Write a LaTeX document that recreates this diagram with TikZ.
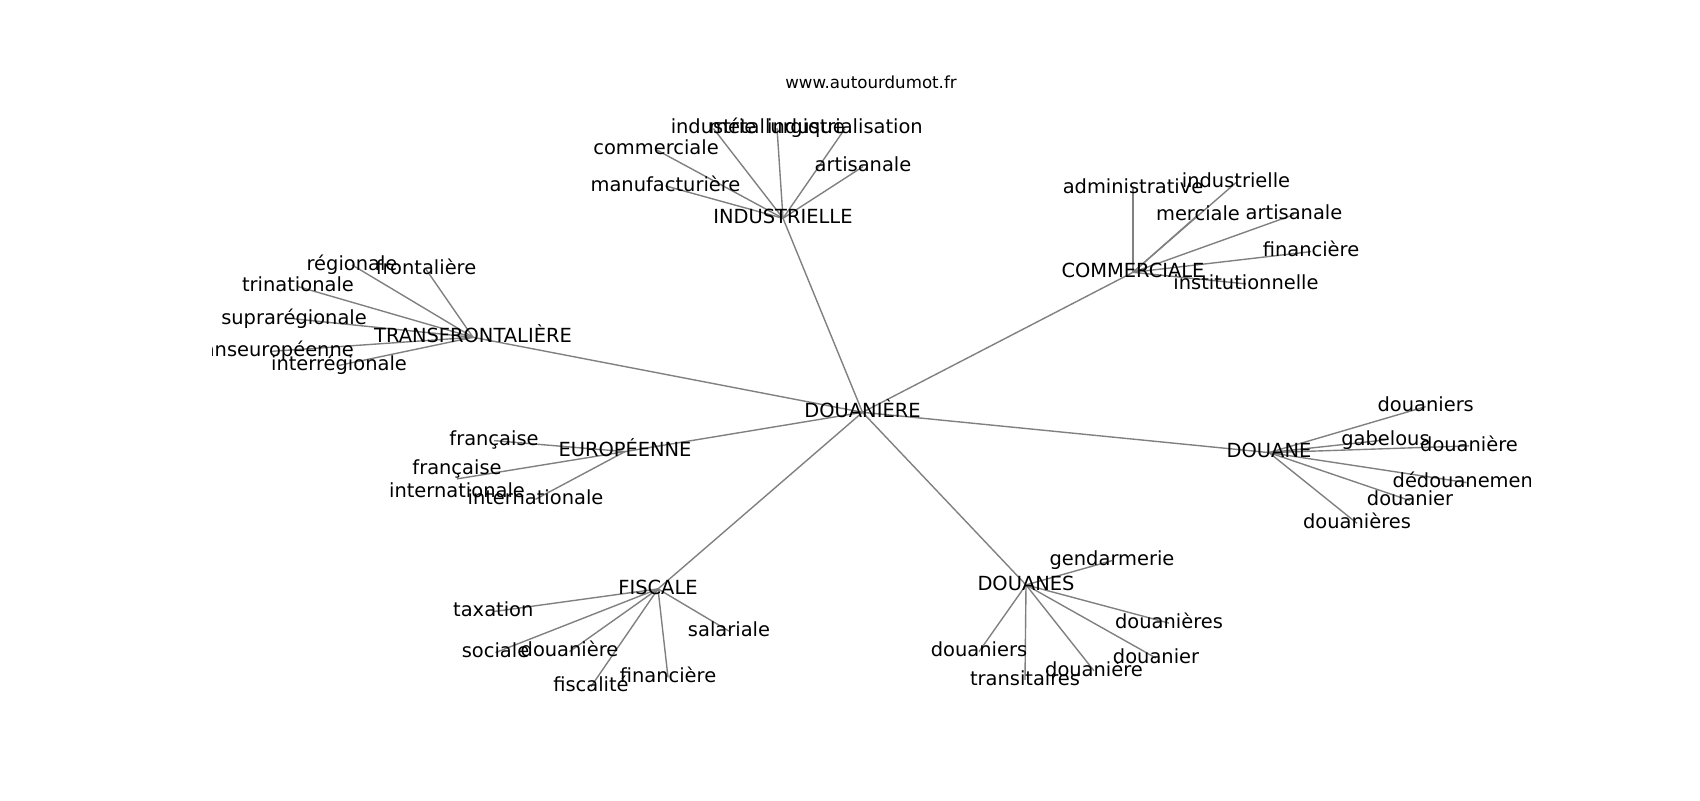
\documentclass[tikz,border=0pt]{standalone}
\usepackage{fontspec}
\setmainfont{DejaVu Sans}
\usetikzlibrary{backgrounds}
\newcommand\lblfont{\fontsize{14}{16.1}\selectfont}
\newcommand\ttlfont{\fontsize{12}{14}\selectfont}
\tikzset{
  lbl/.style={font=\lblfont, inner sep=0pt, text height=7.73pt, text depth=0pt},
  lbltwo/.style={font=\lblfont, inner sep=0pt, align=center},
  ttl/.style={font=\ttlfont, inner sep=0pt, anchor=base},
  edge/.style={draw=gray, line width=1pt}
}
\begin{document}
\begin{tikzpicture}[x=0.72pt, y=-0.72pt]
\useasboundingbox (0,0) rectangle (1700,800);
\node[ttl] (title) at (871,88) {www.autourdumot.fr};
\begin{scope}
\clip (212.5,96) rectangle (1530,712);
\begin{scope}[yshift=-1.44pt]
% root
\node[lbl] (root) at (862.5,410.3) {DOUANIÈRE};
% INDUSTRIELLE
\node[lbl] (ind) at (783,216.3) {INDUSTRIELLE};
\node[lbl] (ind1) at (713.5,126.6) {industrie};
\node[lbl] (ind2) at (777,126) {métallurgique};
\node[lbl] (ind3) at (845,126.6) {industrialisation};
\node[lbl] (ind4) at (656,147.6) {commerciale};
\node[lbl] (ind5) at (665.5,183.9) {manufacturière};
\node[lbl] (ind6) at (863,164.6) {artisanale};
% COMMERCIALE
\node[lbl] (com) at (1133,270.3) {COMMERCIALE};
\node[lbl] (com1) at (1133,186.3) {administrative};
\node[lbl] (com2) at (1236,180.6) {industrielle};
\node[lbl] (com3) at (1198,212.9) {merciale};
\node[lbl] (com4) at (1294,212.6) {artisanale};
\node[lbl] (com5) at (1311,249.6) {financière};
\node[lbl] (com6) at (1246,281.9) {institutionnelle};
% TRANSFRONTALIERE
\node[lbl] (tra) at (473,335.3) {TRANSFRONTALIÈRE};
\node[lbl] (tra1) at (352,262.9) {régionale};
\node[lbl] (tra2) at (426,267.3) {frontalière};
\node[lbl] (tra3) at (298,284.6) {trinationale};
\node[lbl] (tra4) at (294,316.8) {suprarégionale};
\node[lbl] (tra5) at (270.5,349.4) {transeuropéenne};
\node[lbl] (tra6) at (339,363.4) {interrégionale};
% EUROPEENNE
\node[lbl] (eur) at (625,449.6) {EUROPÉENNE};
\node[lbl] (eur1) at (494,438.6) {française};
\node[lbltwo, anchor=north] (eur2) at (457,457.9) {française\\internationale};
\node[lbl] (eur3) at (535.5,497.3) {internationale};
% DOUANE
\node[lbl] (dou) at (1269,450.6) {DOUANE};
\node[lbl] (dou1) at (1425.7,404.6) {douaniers};
\node[lbl] (dou2) at (1385.5,437.9) {gabelous};
\node[lbl] (dou3) at (1469,443.9) {douanière};
\node[lbl] (dou4) at (1466.6,480.6) {dédouanement};
\node[lbl] (dou5) at (1410,498.6) {douanier};
\node[lbl] (dou6) at (1357,521.3) {douanières};
% FISCALE
\node[lbl] (fis) at (658,586.9) {FISCALE};
\node[lbl] (fis1) at (493.3,609.6) {taxation};
\node[lbl] (fis2) at (729,629.1) {salariale};
\node[lbl] (fis3) at (495.5,650.6) {sociale};
\node[lbl] (fis4) at (569.5,649.6) {douanière};
\node[lbl] (fis5) at (591,684.6) {fiscalité};
\node[lbl] (fis6) at (668,675.3) {financière};
% DOUANES
\node[lbl] (dos) at (1026,582.9) {DOUANES};
\node[lbl] (dos1) at (1112,558.6) {gendarmerie};
\node[lbl] (dos2) at (1169,621.1) {douanières};
\node[lbl] (dos3) at (979,649.6) {douaniers};
\node[lbl] (dos4) at (1156,656.1) {douanier};
\node[lbl] (dos5) at (1094,668.8) {douanière};
\node[lbl] (dos6) at (1025,677.9) {transitaires};
\end{scope}
\end{scope}
\begin{scope}[on background layer]
\fill[white] (0,0) rectangle (1700,800);
\foreach \h in {ind,com,tra,eur,dou,fis,dos}{
  \draw[edge] (root.center) -- (\h.center);
}
\foreach \h in {ind,com,tra,dou,fis,dos}{
  \foreach \i in {1,...,6}{
    \draw[edge] (\h.center) -- (\h\i.center);
  }
}
\foreach \i in {1,2,3}{
  \draw[edge] (eur.center) -- (eur\i.center);
}
\end{scope}
\end{tikzpicture}
\end{document}
